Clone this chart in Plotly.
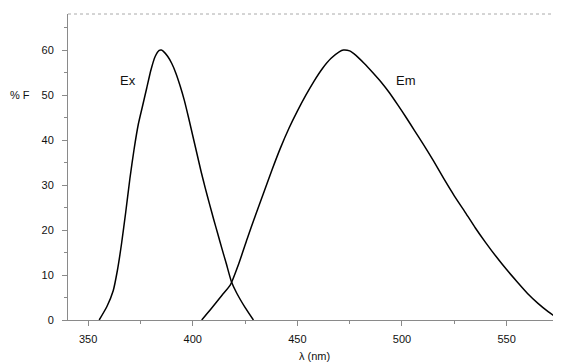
import plotly.graph_objects as go

# Excitation spectrum
ex_wavelength = [355.3, 359, 362, 364, 366, 368, 370, 372, 374, 376, 378, 380, 382, 384, 385,
                 386, 388, 390, 392, 394, 396, 398, 400, 402, 404, 406, 408, 410, 412, 414,
                 416, 418.5, 421, 425, 429]
ex_intensity = [0, 3, 6.5, 11, 17, 24, 31.5, 38, 43.5, 47.5, 51.5, 55.5, 58.5, 59.9, 60,
                59.7, 58.6, 57, 54.8, 52, 48.8, 45, 41, 37, 33, 29.3, 25.8, 22.4, 19.1, 15.8,
                12.6, 8.5, 6, 2.8, 0]

# Emission spectrum
em_wavelength = [404.3, 409, 414, 418, 422, 426, 430, 434, 438, 442, 446, 450, 454, 458, 462,
                 466, 470, 472, 475, 478, 482, 486, 490, 494, 498, 502, 506, 510, 515, 520,
                 525, 530, 535, 540, 545, 550, 555, 560, 565, 570, 575.5]
em_intensity = [0, 2.6, 5.5, 7.8, 12.5, 18, 23.3, 28.4, 33.5, 38.3, 42.6, 46.4, 49.9, 53.1, 55.9,
                58.1, 59.6, 60, 59.8, 58.8, 57, 55, 52.9, 50.5, 47.8, 45, 42.1, 39.2, 35.4, 31.4,
                27.6, 24.1, 20.5, 17.2, 14.1, 11.2, 8.5, 5.9, 3.7, 1.8, 0]

x_ticks = [350, 400, 450, 500, 550]
y_ticks = [0, 10, 20, 30, 40, 50, 60]

font_family = "Liberation Sans, Arial, sans-serif"
axis_color = "#8a8a8a"

fig = go.Figure()
fig.add_trace(go.Scatter(x=ex_wavelength, y=ex_intensity, mode="lines",
                         line=dict(color="black", width=1.5, shape="spline", smoothing=0.5),
                         name="Ex", showlegend=False))
fig.add_trace(go.Scatter(x=em_wavelength, y=em_intensity, mode="lines",
                         line=dict(color="black", width=1.5, shape="spline", smoothing=0.5),
                         name="Em", showlegend=False))

fig.add_annotation(x=369.1, y=53.3, text="Ex", showarrow=False,
                   font=dict(family=font_family, size=13, color="#111"))
fig.add_annotation(x=501.9, y=53.3, text="Em", showarrow=False,
                   font=dict(family=font_family, size=13, color="#111"))
fig.add_annotation(xref="paper", yref="y", x=0, y=50, xanchor="right", xshift=-36,
                   text="% F", showarrow=False,
                   font=dict(family=font_family, size=11, color="#111"))
fig.add_annotation(xref="paper", yref="paper", x=0.5, y=0, yanchor="middle", yshift=-36,
                   text="λ (nm)", showarrow=False,
                   font=dict(family=font_family, size=11, color="#111"))

# top dotted frame line
fig.add_shape(type="line", xref="paper", yref="paper", x0=0, x1=1, y0=1, y1=1,
              line=dict(color="#aaaaaa", width=1, dash="dot"))

fig.update_layout(
    width=553, height=356,
    margin=dict(l=60, r=0, t=6, b=44),
    paper_bgcolor="white", plot_bgcolor="white",
    font=dict(family=font_family, size=11, color="#111"),
    xaxis=dict(range=[340.4, 576], tickvals=x_ticks, ticks="outside", ticklen=5,
               tickcolor=axis_color, showline=True, linecolor=axis_color, linewidth=1,
               showgrid=False, zeroline=False, ticklabelstandoff=4, automargin=False,
               minor=dict(dtick=25, tick0=350, ticks="outside", ticklen=3, tickcolor=axis_color)),
    yaxis=dict(range=[0, 68], tickvals=y_ticks, ticks="outside", ticklen=5,
               tickcolor=axis_color, showline=True, linecolor=axis_color, linewidth=1,
               showgrid=False, zeroline=False, ticklabelstandoff=6, automargin=False,
               minor=dict(dtick=5, ticks="outside", ticklen=3, tickcolor=axis_color)),
)

fig.write_html("out.html")
